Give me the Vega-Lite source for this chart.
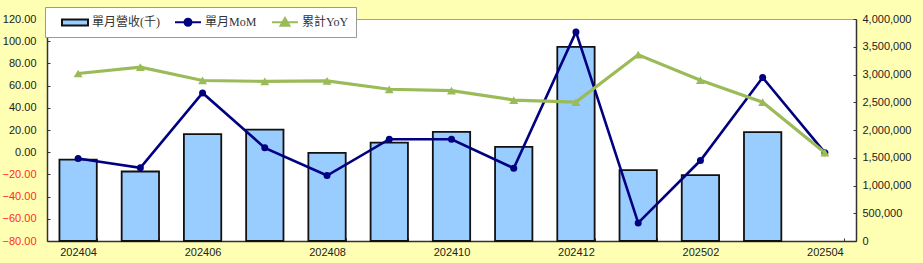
{
  "$schema": "https://vega.github.io/schema/vega-lite/v6.json",
  "width": 809,
  "height": 222,
  "autosize": {"type": "none"},
  "padding": {"left": 47, "top": 19, "right": 67, "bottom": 22},
  "background": "#FFFFB3",
  "config": {
    "view": {"fill": "white", "stroke": "#A0A0A0", "strokeWidth": 1},
    "font": "Liberation Sans",
    "axis": {
      "grid": false,
      "labelFont": "Liberation Sans",
      "labelFontSize": 11,
      "labelColor": "#222222",
      "labelOverlap": false,
      "domainColor": "#333333",
      "domainWidth": 1.5,
      "tickColor": "#333333",
      "tickSize": -3,
      "tickWidth": 1
    }
  },
  "data": {
    "values": [
      {"month": "202404", "revenue": 1468000, "mom": -5.7, "yoy": 70.9},
      {"month": "202405", "revenue": 1252000, "mom": -14.1, "yoy": 76.6},
      {"month": "202406", "revenue": 1924000, "mom": 53.4, "yoy": 64.6},
      {"month": "202407", "revenue": 2008000, "mom": 3.9, "yoy": 63.8},
      {"month": "202408", "revenue": 1588000, "mom": -21.0, "yoy": 64.2},
      {"month": "202409", "revenue": 1774000, "mom": 11.7, "yoy": 56.7},
      {"month": "202410", "revenue": 1966000, "mom": 11.7, "yoy": 55.5},
      {"month": "202411", "revenue": 1696000, "mom": -14.4, "yoy": 47.0},
      {"month": "202412", "revenue": 3498000, "mom": 108.4, "yoy": 45.1},
      {"month": "202501", "revenue": 1276000, "mom": -63.7, "yoy": 87.8},
      {"month": "202502", "revenue": 1186000, "mom": -7.5, "yoy": 64.9},
      {"month": "202503", "revenue": 1960000, "mom": 67.3, "yoy": 45.1},
      {"month": "202504", "revenue": null, "mom": -0.4, "yoy": -0.4}
    ]
  },
  "encoding": {
    "x": {
      "field": "month",
      "type": "ordinal",
      "scale": {"paddingInner": 0.4, "paddingOuter": 0.2},
      "axis": {
        "title": null,
        "labelAngle": 0,
        "labelPadding": 8,
        "tickBand": "extent",
        "labelExpr": "toNumber(datum.value) % 2 == 0 ? datum.value : ''"
      }
    }
  },
  "layer": [
    {
      "mark": {"type": "bar", "fill": "#99CCFF", "stroke": "#111111", "strokeWidth": 1.8},
      "encoding": {
        "y": {
          "field": "revenue",
          "type": "quantitative",
          "scale": {"domain": [0, 4000000], "nice": false, "zero": true},
          "axis": {
            "orient": "right",
            "title": null,
            "values": [0, 500000, 1000000, 1500000, 2000000, 2500000, 3000000, 3500000, 4000000],
            "format": ",d",
            "labelPadding": 9
          }
        }
      }
    },
    {
      "layer": [
        {
          "mark": {"type": "line", "color": "#000080", "strokeWidth": 2.6, "point": {"filled": true, "size": 49, "opacity": 1, "color": "#000080"}},
          "encoding": {
            "y": {
              "field": "mom",
              "type": "quantitative",
              "scale": {"domain": [-80, 120], "nice": false},
              "axis": {
                "orient": "left",
                "title": null,
                "values": [-80, -60, -40, -20, 0, 20, 40, 60, 80, 100, 120],
                "format": ".2f",
                "labelPadding": 14,
                "labelOverlap": false,
                "labelColor": {"condition": {"test": "datum.value < 0", "value": "#FF2A2A"}, "value": "#222222"}
              }
            }
          }
        },
        {
          "mark": {"type": "line", "color": "#9BBB59", "strokeWidth": 3.2, "point": {"filled": true, "shape": "triangle-up", "size": 80, "opacity": 1, "color": "#9BBB59"}},
          "encoding": {
            "y": {
              "field": "yoy",
              "type": "quantitative",
              "axis": {
                "orient": "left",
                "title": null,
                "values": [-80, -60, -40, -20, 0, 20, 40, 60, 80, 100, 120],
                "format": ".2f",
                "labelPadding": 14,
                "labelOverlap": false,
                "labelColor": {"condition": {"test": "datum.value < 0", "value": "#FF2A2A"}, "value": "#222222"}
              }
            }
          }
        },
        {
          "transform": [{"filter": "false"}],
          "mark": {"type": "point", "opacity": 1, "strokeWidth": 2},
          "encoding": {
            "y": {
              "field": "mom",
              "type": "quantitative",
              "axis": {
                "orient": "left",
                "title": null,
                "values": [-80, -60, -40, -20, 0, 20, 40, 60, 80, 100, 120],
                "format": ".2f",
                "labelPadding": 14,
                "labelOverlap": false,
                "labelColor": {"condition": {"test": "datum.value < 0", "value": "#FF2A2A"}, "value": "#222222"}
              }
            },
            "shape": {
              "field": "series",
              "type": "nominal",
              "scale": {
                "domain": ["單月營收(千)", "單月MoM", "累計YoY"],
                "range": [
                  "M-1.857,-0.43L1.857,-0.43L1.857,0.43L-1.857,0.43Z",
                  "M-1.857,0L1.857,0M-0.5,0A0.5,0.5,0,1,0,0.5,0A0.5,0.5,0,1,0,-0.5,0Z",
                  "M-1.857,0L1.857,0M-0.64,0.5L0,-0.6L0.64,0.5Z"
                ]
              },
              "legend": {
                "title": null,
                "orient": "none",
                "legendX": -2,
                "legendY": -12,
                "direction": "horizontal",
                "fillColor": "white",
                "strokeColor": "#999999",
                "padding": 7,
                "symbolSize": 196,
                "symbolStrokeWidth": 2,
                "symbolOffset": 15,
                "labelOffset": 9,
                "columnPadding": 5,
                "labelFont": "Liberation Serif, Noto Sans CJK TC",
                "labelFontSize": 12,
                "labelColor": "#333333"
              }
            },
            "fill": {
              "field": "series",
              "type": "nominal",
              "scale": {
                "domain": ["單月營收(千)", "單月MoM", "累計YoY"],
                "range": ["#99CCFF", "#000080", "#9BBB59"]
              },
              "legend": {"title": null}
            },
            "stroke": {
              "field": "series",
              "type": "nominal",
              "scale": {
                "domain": ["單月營收(千)", "單月MoM", "累計YoY"],
                "range": ["#111111", "#000080", "#9BBB59"]
              },
              "legend": {"title": null}
            }
          }
        }
      ]
    }
  ],
  "resolve": {"scale": {"y": "independent"}}
}
